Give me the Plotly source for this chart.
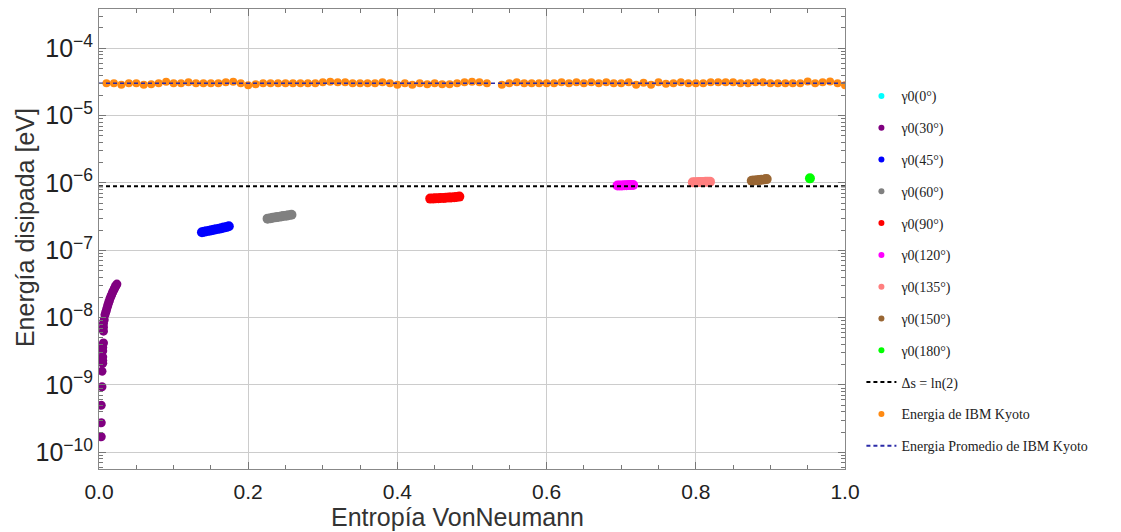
import plotly.graph_objects as go

# ---------------- data ----------------
# IBM Kyoto dissipated energy (orange), x = entropy sample points
kyoto_x = [0.01, 0.02, 0.03, 0.04, 0.05, 0.06, 0.07, 0.08, 0.09, 0.10,
           0.11, 0.12, 0.13, 0.14, 0.15, 0.16, 0.17, 0.18, 0.19, 0.20,
           0.21, 0.22, 0.23, 0.24, 0.25, 0.26, 0.27, 0.28, 0.29, 0.30,
           0.31, 0.32, 0.33, 0.34, 0.35, 0.36, 0.37, 0.38, 0.39, 0.40,
           0.41, 0.42, 0.43, 0.44, 0.45, 0.46, 0.47, 0.48, 0.49, 0.50,
           0.51, 0.52, 0.54, 0.55, 0.56, 0.57, 0.58, 0.59, 0.60,
           0.61, 0.62, 0.63, 0.64, 0.65, 0.66, 0.67, 0.68, 0.69, 0.70,
           0.71, 0.72, 0.73, 0.74, 0.75, 0.76, 0.77, 0.78, 0.79, 0.80,
           0.81, 0.82, 0.83, 0.84, 0.85, 0.86, 0.87, 0.88, 0.89, 0.90,
           0.91, 0.92, 0.93, 0.94, 0.95, 0.96, 0.97, 0.98, 0.99, 1.00]
kyoto_e = [3.03, 3.03, 2.86, 3.03, 3.03, 2.86, 2.93, 3.03, 3.17, 3.03,
           3.03, 3.13, 3.03, 3.03, 3.03, 3.03, 3.13, 3.17, 3.03, 2.83,
           2.93, 3.03, 3.03, 3.03, 3.03, 3.03, 3.03, 3.03, 3.03, 3.13,
           3.17, 3.13, 3.13, 3.03, 3.03, 3.03, 3.03, 3.13, 3.03, 2.86,
           3.03, 2.86, 3.03, 2.93, 3.03, 2.93, 2.93, 3.03, 3.13, 3.17,
           3.13, 3.03, 2.86, 3.03, 3.13, 3.03, 3.03, 3.03, 3.03,
           3.03, 3.13, 3.03, 3.13, 3.03, 3.13, 3.03, 3.13, 3.03, 3.03,
           3.13, 2.86, 3.08, 2.86, 3.13, 2.98, 3.03, 3.13, 3.03, 3.03,
           3.03, 3.13, 3.13, 3.13, 3.13, 3.03, 3.03, 3.13, 3.13, 3.03,
           3.03, 3.03, 3.03, 3.03, 3.22, 3.03, 3.13, 3.22, 3.03, 2.83]
kyoto_scale = 1e-5
kyoto_mean = 3.03e-5          # Energia Promedio de IBM Kyoto
landauer = 8.96e-7            # Δs = ln(2)
line_x = [0.0, 1.0]

# gamma0 series (entropy, energy)
g0_x = [0.0]
g0_e = [0.0]
g30_x = [0.003, 0.003, 0.003, 0.004, 0.004, 0.005, 0.005, 0.005, 0.005, 0.005,
         0.006, 0.006, 0.006, 0.006, 0.007, 0.008, 0.009, 0.010, 0.011, 0.012,
         0.013, 0.014, 0.015, 0.016, 0.017, 0.018, 0.019, 0.020, 0.021, 0.022,
         0.023, 0.024]
g30_e = [1.7e-10, 2.75e-10, 5.0e-10, 9.4e-10, 1.6e-9, 2.1e-9, 2.3e-9, 2.6e-9, 3.2e-9, 3.6e-9,
         4.2e-9, 6.3e-9, 7.2e-9, 8.2e-9, 9.3e-9, 1.1e-8, 1.2e-8, 1.3e-8, 1.42e-8, 1.55e-8,
         1.68e-8, 1.8e-8, 1.95e-8, 2.08e-8, 2.2e-8, 2.35e-8, 2.48e-8, 2.6e-8, 2.75e-8, 2.9e-8,
         3.02e-8, 3.15e-8]
g45_x = [0.138, 0.141, 0.144, 0.148, 0.151, 0.154, 0.157, 0.161, 0.164, 0.167, 0.171, 0.174]
g45_e = [1.85e-7, 1.88e-7, 1.92e-7, 1.95e-7, 1.99e-7, 2.02e-7, 2.06e-7, 2.09e-7, 2.13e-7,
         2.17e-7, 2.22e-7, 2.27e-7]
g60_x = [0.226, 0.230, 0.233, 0.237, 0.240, 0.244, 0.247, 0.251, 0.254, 0.258]
g60_e = [2.95e-7, 3.00e-7, 3.04e-7, 3.09e-7, 3.13e-7, 3.18e-7, 3.22e-7, 3.27e-7, 3.32e-7, 3.37e-7]
g90_x = [0.444, 0.448, 0.451, 0.455, 0.458, 0.462, 0.465, 0.469, 0.472, 0.476, 0.479, 0.483]
g90_e = [5.85e-7, 5.88e-7, 5.90e-7, 5.93e-7, 5.96e-7, 6.00e-7, 6.03e-7, 6.07e-7, 6.10e-7,
         6.15e-7, 6.20e-7, 6.27e-7]
g120_x = [0.695, 0.698, 0.701, 0.704, 0.707, 0.710, 0.713, 0.716]
g120_e = [9.15e-7, 9.18e-7, 9.20e-7, 9.22e-7, 9.25e-7, 9.28e-7, 9.30e-7, 9.33e-7]
g135_x = [0.796, 0.799, 0.803, 0.806, 0.809, 0.813, 0.816, 0.819]
g135_e = [1.02e-6, 1.025e-6, 1.03e-6, 1.03e-6, 1.035e-6, 1.04e-6, 1.04e-6, 1.045e-6]
g150_x = [0.875, 0.878, 0.882, 0.885, 0.888, 0.892, 0.895]
g150_e = [1.08e-6, 1.09e-6, 1.10e-6, 1.11e-6, 1.12e-6, 1.13e-6, 1.14e-6]
g180_x = [0.953]
g180_e = [1.17e-6]

series_names = ["γ0(0°)", "γ0(30°)", "γ0(45°)", "γ0(60°)", "γ0(90°)",
                "γ0(120°)", "γ0(135°)", "γ0(150°)", "γ0(180°)"]
series_colors = ["#00ffff", "#800080", "#0000ff", "#808080", "#ff0000",
                 "#ff00ff", "#ff7f7f", "#996633", "#00ff00"]
series_x = [g0_x, g30_x, g45_x, g60_x, g90_x, g120_x, g135_x, g150_x, g180_x]
series_e = [g0_e, g30_e, g45_e, g60_e, g90_e, g120_e, g135_e, g150_e, g180_e]
series_size = [9, 9, 10, 10, 10, 10, 10, 10, 10]

x_title = "Entropía VonNeumann"
y_title = "Energía disipada [eV]"

orange = "#ff8a12"
navy = "#2b2ba8"

fig = go.Figure()

# data points (no legend)
for name, col, xs, es, sz in zip(series_names, series_colors, series_x, series_e, series_size):
    fig.add_trace(go.Scatter(x=xs, y=es, mode="markers", showlegend=False,
                             marker=dict(color=col, size=sz, line=dict(width=0)),
                             name=name))

fig.add_trace(go.Scatter(x=kyoto_x, y=[v * kyoto_scale for v in kyoto_e], mode="markers",
                         showlegend=False, marker=dict(color=orange, size=8, line=dict(width=0)),
                         name="Energia de IBM Kyoto"))
fig.add_trace(go.Scatter(x=line_x, y=[landauer, landauer], mode="lines", showlegend=False,
                         line=dict(color="black", width=2, dash="4px,3px")))
fig.add_trace(go.Scatter(x=line_x, y=[kyoto_mean, kyoto_mean], mode="lines", showlegend=False,
                         line=dict(color=navy, width=1.6, dash="4px,3px")))

# legend entries
for name, col in zip(series_names, series_colors):
    fig.add_trace(go.Scatter(x=[None], y=[None], mode="markers", name=name, legendgroup=name,
                             marker=dict(color=col, size=6)))
fig.add_trace(go.Scatter(x=[None], y=[None], mode="lines", name="Δs = ln(2)", legendgroup="ds",
                         line=dict(color="black", width=2, dash="4px,3px")))
fig.add_trace(go.Scatter(x=[None], y=[None], mode="markers", name="Energia de IBM Kyoto",
                         legendgroup="ek", marker=dict(color=orange, size=6)))
fig.add_trace(go.Scatter(x=[None], y=[None], mode="lines", name="Energia Promedio de IBM Kyoto",
                         legendgroup="ep", line=dict(color=navy, width=2, dash="4px,3px")))

tick_font = dict(family="Liberation Sans", size=21, color="#222222")
title_font = dict(family="Liberation Sans", size=25, color="#333333")

fig.update_layout(
    width=1121, height=532,
    margin=dict(l=99, r=276, t=9, b=63),
    plot_bgcolor="white", paper_bgcolor="white",
    showlegend=True,
    legend=dict(x=1.022, y=0.845, xanchor="left", yanchor="top",
                font=dict(family="Liberation Serif", size=14, color="#222222"),
                traceorder="grouped", tracegroupgap=10.6, itemwidth=30,
                bgcolor="rgba(0,0,0,0)"),
    xaxis=dict(range=[0, 1], tick0=0, dtick=0.2, tickformat=".1f",
               ticks="inside", ticklen=7, tickcolor="#777777",
               showline=True, linecolor="#888888", linewidth=1, mirror="allticks",
               showgrid=True, gridcolor="#cccccc", gridwidth=1, zeroline=False,
               minor=dict(dtick=0.05, ticks="inside", ticklen=4, tickcolor="#777777", showgrid=False),
               tickfont=tick_font, ticklabelstandoff=4),
    yaxis=dict(type="log", range=[-10.248, -3.417], dtick=1, exponentformat="power",
               ticks="inside", ticklen=7, tickcolor="#777777",
               showline=True, linecolor="#888888", linewidth=1, mirror="allticks",
               showgrid=True, gridcolor="#cccccc", gridwidth=1, zeroline=False,
               minor=dict(dtick="D1", ticks="inside", ticklen=4, tickcolor="#777777", showgrid=False),
               tickfont=dict(family="Liberation Sans", size=20, color="#222222"),
               ticklabelstandoff=1),
    annotations=[
        dict(text=x_title, xref="paper", yref="paper", x=0.481, y=-0.104,
             xanchor="center", yanchor="middle", showarrow=False, font=title_font),
        dict(text=y_title, xref="paper", yref="paper", x=-0.099, y=0.524, textangle=-90,
             xanchor="center", yanchor="middle", showarrow=False, font=title_font),
    ],
)

fig.write_html("out.html")
